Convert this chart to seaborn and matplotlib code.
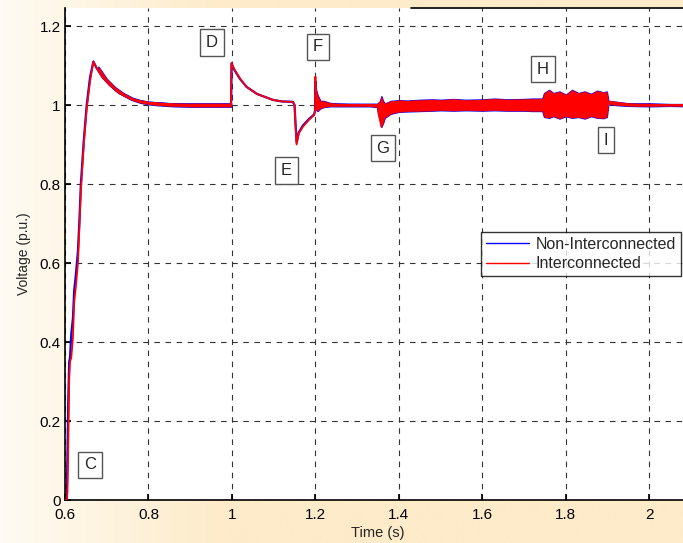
import numpy as np
import pandas as pd
import matplotlib
matplotlib.use("Agg")
import matplotlib.pyplot as plt
import seaborn as sns
from matplotlib.colors import LinearSegmentedColormap
from matplotlib.lines import Line2D

# ==========================================
# DATOS
# ==========================================
tiempo = [0.600, 0.604, 0.606, 0.608, 0.610, 0.612, 0.615, 0.619, 0.622, 0.626,
          0.631, 0.635, 0.638, 0.645, 0.652, 0.660, 0.668, 0.675, 0.690, 0.708,
          0.730, 0.763, 0.800, 0.850, 0.900, 0.998, 0.999, 1.005, 1.020, 1.035,
          1.060, 1.098, 1.120, 1.146, 1.150, 1.152, 1.155, 1.160, 1.170, 1.185,
          1.197, 1.199, 1.200, 1.202, 1.206, 1.215, 1.250, 1.300, 1.350, 1.352,
          1.358, 1.362, 1.370, 1.400, 1.500, 1.600, 1.700, 1.800, 1.900, 1.905,
          1.950, 2.000, 2.100]
v_no_inter = [0.00, 0.00, 0.12, 0.26, 0.35, 0.36, 0.42, 0.46, 0.53, 0.57,
              0.63, 0.72, 0.80, 0.91, 1.00, 1.07, 1.11, 1.095, 1.07, 1.05,
              1.03, 1.013, 1.006, 1.002, 1.000, 1.000, 1.105, 1.090, 1.065, 1.046,
              1.028, 1.013, 1.009, 1.008, 1.000, 0.960, 0.905, 0.930, 0.948, 0.965,
              0.976, 0.985, 1.060, 1.010, 1.005, 1.002, 1.000, 1.000, 0.999, 0.978,
              0.958, 0.972, 0.988, 0.996, 0.999, 1.000, 1.000, 1.003, 1.003, 1.008,
              1.002, 1.000, 1.000]
v_inter = [0.00, 0.00, 0.02, 0.15, 0.30, 0.35, 0.36, 0.41, 0.50, 0.54,
           0.60, 0.70, 0.78, 0.90, 0.99, 1.06, 1.11, 1.095, 1.07, 1.05,
           1.03, 1.013, 1.006, 1.002, 1.000, 1.000, 1.107, 1.092, 1.066, 1.046,
           1.028, 1.013, 1.009, 1.008, 1.000, 0.955, 0.900, 0.928, 0.945, 0.963,
           0.975, 0.984, 1.072, 1.010, 1.005, 1.002, 1.000, 1.000, 0.999, 0.975,
           0.945, 0.970, 0.987, 0.996, 0.999, 1.000, 1.000, 1.003, 1.003, 1.008,
           1.002, 1.000, 1.000]

# banda de ruido tras el primer pico
ruido1_t = [0.680, 0.700, 0.720, 0.740, 0.760, 0.780, 0.800, 0.830, 0.860,
            0.900, 0.940, 0.970, 0.998]
ruido1_hi = [1.097, 1.066, 1.045, 1.030, 1.019, 1.012, 1.008, 1.006, 1.004,
             1.004, 1.004, 1.004, 1.004]
ruido1_lo = [1.090, 1.058, 1.038, 1.024, 1.013, 1.006, 1.002, 0.999, 0.997,
             0.996, 0.996, 0.996, 0.996]

# banda de ruido desde F hasta después de I
ruido2_t = [1.201, 1.205, 1.212, 1.220, 1.235, 1.250, 1.280, 1.300, 1.330, 1.348,
            1.355, 1.358, 1.362, 1.366, 1.372, 1.380, 1.400, 1.420, 1.450, 1.480,
            1.500, 1.530, 1.560, 1.600, 1.630, 1.660, 1.700, 1.720, 1.744, 1.748,
            1.760, 1.770, 1.785, 1.800, 1.815, 1.830, 1.845, 1.860, 1.875, 1.890,
            1.898, 1.902, 1.920, 1.950, 2.000, 2.050, 2.100]
ruido2_hi = [1.040, 1.025, 1.010, 1.010, 1.005, 1.004, 1.003, 1.003, 1.003, 1.003,
             1.010, 1.022, 1.010, 1.004, 1.006, 1.010, 1.012, 1.011, 1.013, 1.014,
             1.013, 1.015, 1.013, 1.014, 1.016, 1.014, 1.015, 1.016, 1.016, 1.030,
             1.038, 1.030, 1.034, 1.026, 1.038, 1.030, 1.034, 1.028, 1.036, 1.032,
             1.034, 1.010, 1.005, 1.003, 1.004, 1.002, 1.002]
ruido2_lo = [0.990, 0.985, 0.992, 0.995, 0.997, 0.997, 0.997, 0.997, 0.997, 0.995,
             0.965, 0.945, 0.955, 0.968, 0.972, 0.978, 0.983, 0.984, 0.985, 0.986,
             0.987, 0.986, 0.987, 0.986, 0.987, 0.986, 0.986, 0.985, 0.985, 0.970,
             0.968, 0.972, 0.966, 0.972, 0.968, 0.970, 0.966, 0.972, 0.968, 0.967,
             0.970, 1.003, 1.000, 0.998, 0.997, 0.998, 0.997]

etiquetas = ["C", "D", "E", "F", "G", "H", "I"]
etiq_x = [0.660, 0.952, 1.130, 1.206, 1.362, 1.745, 1.896]
etiq_y = [0.089, 1.159, 0.835, 1.147, 0.891, 1.091, 0.911]

xticks = [0.6, 0.8, 1.0, 1.2, 1.4, 1.6, 1.8, 2.0]
xtick_labels = ["0.6", "0.8", "1", "1.2", "1.4", "1.6", "1.8", "2"]
yticks = [0, 0.2, 0.4, 0.6, 0.8, 1.0, 1.2]
ytick_labels = ["0", "0.2", "0.4", "0.6", "0.8", "1", "1.2"]

# ==========================================
# ESTILO
# ==========================================
sns.set_theme(style="white")
plt.rcParams["font.family"] = ["Liberation Sans", "DejaVu Sans"]
AZUL = "#0000ff"
ROJO = "#ff0000"

fig = plt.figure(figsize=(6.83, 5.43), dpi=100)

# fondo degradado crema -> melocotón
fondo = fig.add_axes([0, 0, 1, 1], zorder=-10)
grad = np.clip(np.linspace(0, 1, 300) * 3.0, 0, 1)[None, :]
cmap_fondo = LinearSegmentedColormap.from_list("fondo", ["#fffbf3", "#fdebc9"])
fondo.imshow(grad, aspect="auto", cmap=cmap_fondo, extent=[0, 1, 0, 1])
fondo.set_axis_off()

ax = fig.add_axes([65 / 683, 1 - 500 / 543, 626 / 683, 492 / 543])
ax.set_facecolor("white")

df = pd.DataFrame({"t": tiempo + tiempo,
                   "v": v_no_inter + v_inter,
                   "serie": ["Non-Interconnected"] * len(tiempo) + ["Interconnected"] * len(tiempo)})

# bandas de ruido: azul con borde, roja encima
for t, lo, hi in [(ruido1_t, ruido1_lo, ruido1_hi), (ruido2_t, ruido2_lo, ruido2_hi)]:
    ax.fill_between(t, lo, hi, color=AZUL, lw=1.1, edgecolor=AZUL, zorder=2)
    ax.fill_between(t, lo, hi, color=ROJO, lw=0.3, edgecolor=ROJO, zorder=3)

sns.lineplot(data=df[df.serie == "Non-Interconnected"], x="t", y="v", color=AZUL,
             lw=1.6, sort=False, estimator=None, ax=ax, zorder=2, legend=False)
sns.lineplot(data=df[df.serie == "Interconnected"], x="t", y="v", color=ROJO,
             lw=1.3, sort=False, estimator=None, ax=ax, zorder=3, legend=False)

# rejilla discontinua estilo MATLAB
ax.set_xlim(0.6, 2.1)
ax.set_ylim(0, 1.2456)
ax.set_xticks(xticks)
ax.set_xticklabels(xtick_labels)
ax.set_yticks(yticks)
ax.set_yticklabels(ytick_labels)
ax.grid(True, color="#333333", linestyle=(0, (5, 5)), lw=0.8)
ax.tick_params(axis="both", labelsize=11, colors="black", length=4,
               direction="in", bottom=True, left=True)
ax.tick_params(axis="x", pad=6)
ax.tick_params(axis="y", pad=3)
for s in ["left", "bottom"]:
    ax.spines[s].set_color("black")
    ax.spines[s].set_linewidth(1.2)
ax.spines["top"].set_visible(False)
ax.spines["right"].set_visible(False)
ax.axhline(1.2456, xmin=(411 - 65) / 626, xmax=1, color="black", lw=1.2, clip_on=False)

ax.set_xlabel("Time (s)", fontsize=10.5, labelpad=3)
ax.set_ylabel("Voltage (p.u.)", fontsize=10, labelpad=6)

for txt, x, y in zip(etiquetas, etiq_x, etiq_y):
    ax.text(x, y, txt, fontsize=12, ha="center", va="center", zorder=5,
            bbox=dict(boxstyle="square,pad=0.35", fc="white", ec="#555555", lw=1))

handles = [Line2D([], [], color=AZUL, lw=1), Line2D([], [], color=ROJO, lw=1)]
leg = ax.legend(handles, ["Non-Interconnected", "Interconnected"], loc="upper left",
                bbox_to_anchor=(0.665, 0.545), fontsize=11.5, frameon=True, fancybox=False,
                borderpad=0.3, handlelength=2.7, handletextpad=0.4, labelspacing=0.3,
                borderaxespad=0)
leg.get_frame().set_edgecolor("black")
leg.get_frame().set_linewidth(1)
leg.set_zorder(6)

fig.savefig("out.png", dpi=100)
